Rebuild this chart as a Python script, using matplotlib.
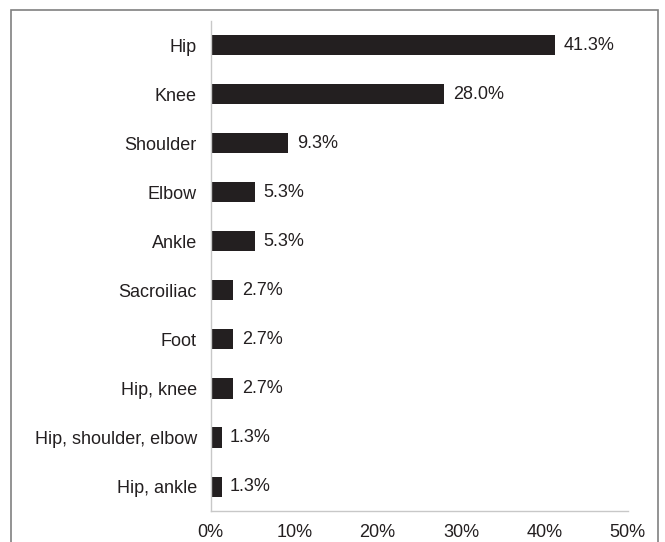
import matplotlib.pyplot as plt
from matplotlib.patches import Rectangle

joints = ['Hip', 'Knee', 'Shoulder', 'Elbow', 'Ankle', 'Sacroiliac', 'Foot',
          'Hip, knee', 'Hip, shoulder, elbow', 'Hip, ankle']
pct = [41.3, 28.0, 9.3, 5.3, 5.3, 2.7, 2.7, 2.7, 1.3, 1.3]
xticks = [0, 10, 20, 30, 40, 50]

plt.rcParams['font.family'] = ['Liberation Sans', 'DejaVu Sans']
plt.rcParams['font.size'] = 13

fig = plt.figure(figsize=(6.65, 5.42), dpi=100)
ax = fig.add_axes([0.317, 0.057, 0.627, 0.905])

ypos = list(range(len(joints)))
ax.barh(ypos, pct, height=0.41, color='#231f20')
for y, v in zip(ypos, pct):
    ax.text(v + 1.0, y, f'{v:.1f}%', va='center', ha='left', color='#231f20')

ax.set_yticks(ypos)
ax.set_yticklabels(joints, color='#231f20')
ax.set_ylim(len(joints) - 0.5, -0.5)
ax.set_xlim(0, 50)
ax.set_xticks(xticks)
ax.set_xticklabels([f'{t}%' for t in xticks], color='#231f20')
ax.tick_params(axis='y', length=0, pad=10)
ax.tick_params(axis='x', length=0, pad=9)

for s in ['top', 'right']:
    ax.spines[s].set_visible(False)
for s in ['left', 'bottom']:
    ax.spines[s].set_color('#c8c8c8')
    ax.spines[s].set_linewidth(1)

# outer frame
fig.patches.append(Rectangle((11 / 665, -0.05), 647 / 665, 1.05 - 10 / 542,
                             transform=fig.transFigure, fill=False,
                             edgecolor='#808080', linewidth=1.2))

fig.savefig('out.png', dpi=100)
